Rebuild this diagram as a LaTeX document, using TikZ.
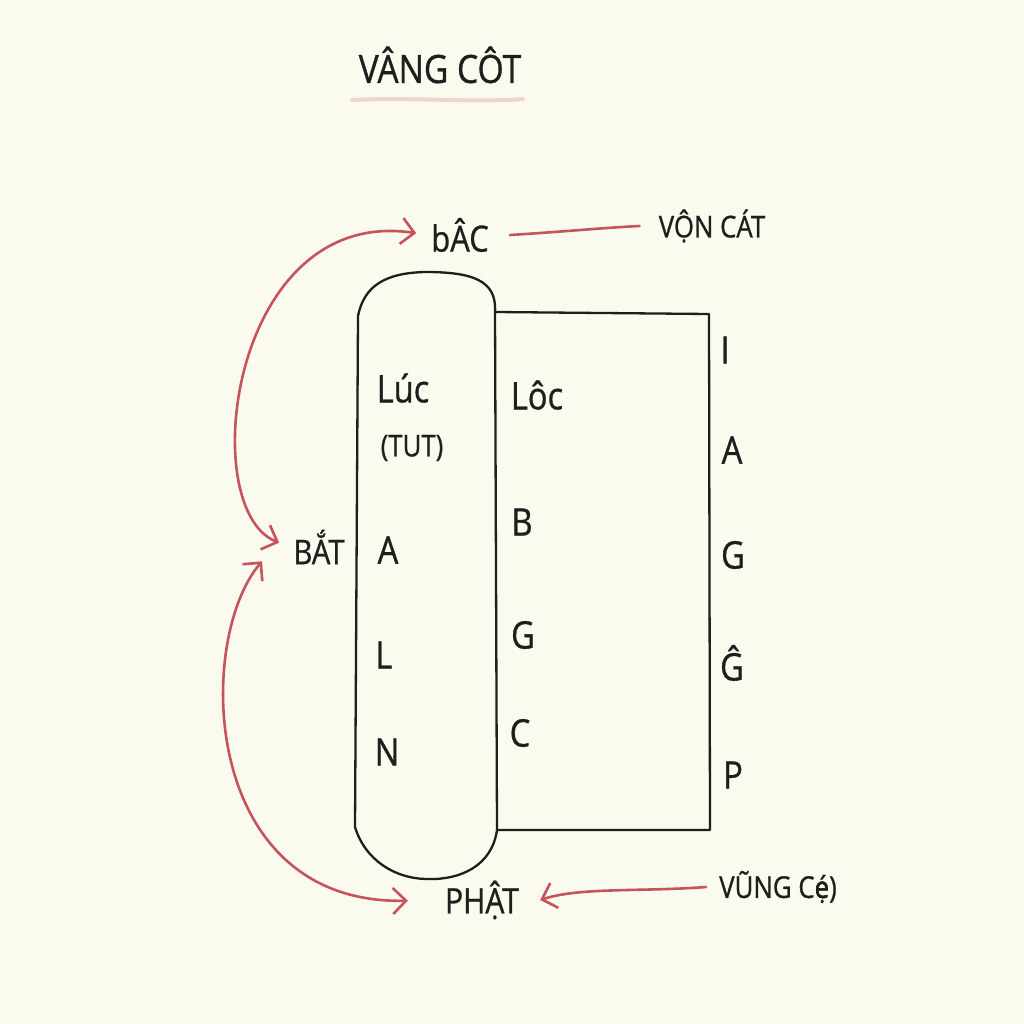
\documentclass[tikz,border=0pt]{standalone}
\usepackage{fontspec}
\setmainfont{Open Sans}[FakeStretch=0.86,FakeBold=0.8]
\usetikzlibrary{arrows.meta}
\definecolor{paper}{RGB}{250,250,238}
\definecolor{ink}{RGB}{30,30,30}
\definecolor{redink}{RGB}{198,84,90}
\definecolor{pinkline}{RGB}{240,212,206}
\begin{document}
\begin{tikzpicture}[x=1pt,y=-1pt,
  lbl/.style={text=ink,font=\fontsize{38}{42}\selectfont,inner sep=3pt},
  lblsmall/.style={text=ink,font=\fontsize{30}{34}\selectfont,inner sep=3pt},
  outline/.style={draw=ink,line width=2.3pt,line cap=round,line join=round},
  redline/.style={draw=redink,line width=2.6pt,line cap=round},
  barb/.tip={Straight Barb[length=13pt,width=26pt,line width=2.6pt]}]
\fill[paper] (0,0) rectangle (1024,1024);
\useasboundingbox (0,0) rectangle (1024,1024);
% title
\node[lbl,font=\fontsize{39}{42}\selectfont] (title) at (440,65) {VÂNG CÔT};
\draw[pinkline,line width=4pt,line cap=round] (352,100) .. controls (420,97) and (470,103) .. (523,99);
% pillar and box
\draw[outline] (358,316) .. controls (364,286) and (385,273) .. (425,272)
  .. controls (472,272) and (497,280) .. (495,312) -- (497,830)
  .. controls (492,866) and (460,880) .. (428,879)
  .. controls (395,879) and (365,860) .. (355,827) -- cycle;
\draw[outline] (495,312) -- (709,314) -- (710,830) -- (497,830);
% labels inside
\node[lbl] (luc) at (403,388) {Lúc};
\node[lblsmall] (tut) at (412,448) {(TUT)};
\node[lbl] (la) at (388,550) {A};
\node[lbl] (ll) at (384,655) {L};
\node[lbl] (ln) at (387,752) {N};
\node[lbl] (loc) at (537,395) {Lôc};
\node[lbl] (mb) at (522,522) {B};
\node[lbl] (mg) at (523,635) {G};
\node[lbl] (mc) at (520,733) {C};
\node[lbl] (ri) at (725,350) {I};
\node[lbl] (ra) at (732,450) {A};
\node[lbl] (rg) at (733,555) {G};
\node[lbl] (rgh) at (732,663) {Ĝ};
\node[lbl] (rp) at (733,775) {P};
% outer labels
\node[lbl,font=\fontsize{36}{40}\selectfont] (bac) at (460,235) {bÂC};
\node[lblsmall] (von) at (712,226) {VỘN CÁT};
\node[lbl,font=\fontsize{34}{38}\selectfont] (bat) at (319,547) {BẮT};
\node[lbl,font=\fontsize{35}{38}\selectfont] (phat) at (482,900) {PHẬT};
\node[lblsmall] (vung) at (778,887) {VŨNG C\ooalign{é\cr ẹ\cr})};
% connectors
\draw[redline,{barb}-{barb},shorten <=12pt,shorten >=12pt] (bat.west) .. controls (195,510) and (230,205) .. (bac.west);
\draw[redline,{barb}-{barb},shorten <=34pt] (phat.west) .. controls (200,905) and (195,640) .. ([xshift=-57pt,yshift=6pt]bat.south);
\draw[redline] ([xshift=18pt]bac.east) .. controls (560,232) and (600,228) .. ([xshift=-16pt]von.west);
\draw[redline,-{barb}] ([xshift=-10pt]vung.west) .. controls (640,892) and (580,887) .. ([xshift=18pt]phat.east);
\end{tikzpicture}
\end{document}
